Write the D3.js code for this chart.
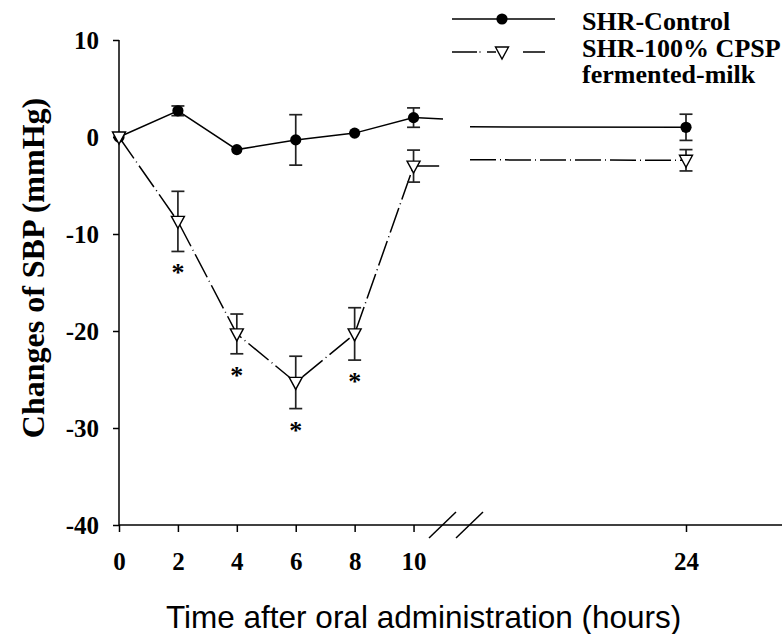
<!DOCTYPE html>
<html>
<head>
<meta charset="utf-8">
<script src="https://cdn.jsdelivr.net/npm/d3@7"></script>
<style>
html,body{margin:0;padding:0;background:#fff;}
svg{display:block;}
</style>
</head>
<body>
<svg id="chart" width="782" height="634"></svg>
<script>
// ---- data ----
const hours = [0, 2, 4, 6, 8, 10, 24];
const controlMean = [0, 2.7, -1.3, -0.3, 0.4, 2.0, 1.0];
const controlErr  = [0, 0.5, 0, 2.6, 0, 1.0, 1.35];
const cpspMean = [0, -8.7, -20.3, -25.3, -20.3, -3.0, -2.4];
const cpspErr  = [0, 3.1, 2.05, 2.7, 2.7, 1.65, 1.1];
const cpspSignificant = [false, true, true, true, true, false, false];
// line ends at the axis break (before / after)
const breakHours = [11, 17];
const controlAtBreak = [1.85, 1.05];
const cpspAtBreak = [-3.0, -2.35];
const xTickValues = [0, 2, 4, 6, 8, 10, 24];
const yTickValues = [10, 0, -10, -20, -30, -40];
const seriesNames = ["SHR-Control", "SHR-100% CPSP", "fermented-milk"];
const xTitle = "Time after oral administration (hours)";
const yTitle = "Changes of SBP (mmHg)";

// ---- scales ----
const svg = d3.select("#chart");
const serif = "'Liberation Serif','Times New Roman',Times,serif";
const sans = "'Liberation Sans',Arial,Helvetica,sans-serif";

const x = d3.scaleLinear().domain([0, 11, 17, 24, 27.1]).range([119, 443, 470, 686, 782]);
const y = d3.scaleLinear().domain([-40, 10]).range([525, 40]);

// ---- axes ----
const fmt = d => String(d);
const yAxis = svg.append("g").attr("transform", `translate(${x(0)},0)`)
  .call(d3.axisLeft(y).tickValues(yTickValues).tickSize(6).tickPadding(14).tickFormat(fmt));
yAxis.select(".domain").attr("d", `M0,${y(10)}V${y(-40)}`);
const xAxis = svg.append("g").attr("transform", `translate(0,${y(-40)})`)
  .call(d3.axisBottom(x).tickValues(xTickValues).tickSize(7).tickPadding(20).tickFormat(fmt));
xAxis.select(".domain").attr("d", `M${x(0)},0H782`);
[yAxis, xAxis].forEach(g => {
  g.selectAll("path,line").attr("stroke", "#000").attr("stroke-width", 1.5);
  g.selectAll("text").attr("fill", "#000").style("font-family", serif)
    .style("font-weight", "bold").style("font-size", "25px");
});
yAxis.selectAll("text").attr("dy", "0.34em");
xAxis.selectAll("text").attr("dy", "0.71em");

// axis break marks
const bx = [x(breakHours[0]) - 14, x(breakHours[0]) + 13];
bx.forEach(b => {
  svg.append("line").attr("x1", b).attr("y1", y(-40) + 13).attr("x2", b + 27).attr("y2", y(-40) - 13)
    .attr("stroke", "#000").attr("stroke-width", 1.5);
});

// ---- lines ----
const line = d3.line().x(d => x(d[0])).y(d => y(d[1]));
function segs(mean, atBreak) {
  const a = hours.slice(0, 6).map((h, i) => [h, mean[i]]);
  a.push([breakHours[0], atBreak[0]]);
  const b = [[breakHours[1], atBreak[1]], [24, mean[6]]];
  return [a, b];
}
segs(controlMean, controlAtBreak).forEach(s => {
  svg.append("path").attr("d", line(s)).attr("fill", "none").attr("stroke", "#000").attr("stroke-width", 1.5);
});
const dash = "26,4,1,4";
segs(cpspMean, cpspAtBreak).forEach(s => {
  svg.append("path").attr("d", line(s)).attr("fill", "none").attr("stroke", "#000")
    .attr("stroke-width", 1.5).attr("stroke-dasharray", dash);
});

// ---- error bars ----
function errBars(mean, err) {
  hours.forEach((h, i) => {
    if (err[i] <= 0) return;
    const cx = x(h), y1 = y(mean[i] + err[i]), y2 = y(mean[i] - err[i]);
    const g = svg.append("g").attr("stroke", "#222").attr("stroke-width", 1.7);
    g.append("line").attr("x1", cx).attr("x2", cx).attr("y1", y1).attr("y2", y2);
    g.append("line").attr("x1", cx - 6.5).attr("x2", cx + 6.5).attr("y1", y1).attr("y2", y1);
    g.append("line").attr("x1", cx - 6.5).attr("x2", cx + 6.5).attr("y1", y2).attr("y2", y2);
  });
}
errBars(controlMean, controlErr);
errBars(cpspMean, cpspErr);

// ---- markers ----
const tri = (cx, cy) => `M${cx - 6.5},${cy - 5}L${cx + 6.5},${cy - 5}L${cx},${cy + 7}Z`;
svg.append("g").selectAll("circle").data(hours).join("circle")
  .attr("cx", h => x(h)).attr("cy", (h, i) => y(controlMean[i])).attr("r", 5.6).attr("fill", "#000");
svg.append("g").selectAll("path").data(hours).join("path")
  .attr("d", (h, i) => tri(x(h), y(cpspMean[i]))).attr("fill", "#fff")
  .attr("stroke", "#000").attr("stroke-width", 1.4);

// significance asterisks
svg.append("g").selectAll("text").data(hours.filter((h, i) => cpspSignificant[i])).join("text")
  .attr("x", h => x(h)).attr("y", h => { const i = hours.indexOf(h); return y(cpspMean[i] - cpspErr[i]) + 30; })
  .attr("text-anchor", "middle").style("font-family", serif).style("font-weight", "bold")
  .style("font-size", "26px").text("*");

// ---- legend ----
const lg = svg.append("g");
lg.append("line").attr("x1", 452).attr("x2", 555).attr("y1", 19).attr("y2", 19)
  .attr("stroke", "#000").attr("stroke-width", 1.5);
lg.append("circle").attr("cx", 502).attr("cy", 19).attr("r", 5.6).attr("fill", "#000");
lg.append("line").attr("x1", 452).attr("x2", 546).attr("y1", 52).attr("y2", 52)
  .attr("stroke", "#000").attr("stroke-width", 1.5).attr("stroke-dasharray", "25,2.5,1,6.5,9,27,22,100");
lg.append("path").attr("d", tri(502, 52)).attr("fill", "#fff").attr("stroke", "#000").attr("stroke-width", 1.4);
seriesNames.forEach((t, i) => {
  lg.append("text").attr("x", 582).attr("y", 30 + i * 26.6).text(t)
    .style("font-family", serif).style("font-weight", "bold").style("font-size", "26px");
});

// ---- titles ----
svg.append("text").attr("transform", `translate(44,268) rotate(-90)`).attr("text-anchor", "middle")
  .style("font-family", serif).style("font-weight", "bold").style("font-size", "32px").text(yTitle);
svg.append("text").attr("x", 166).attr("y", 628).attr("text-anchor", "start")
  .style("font-family", sans).style("font-size", "31.5px").text(xTitle);
</script>
</body>
</html>
